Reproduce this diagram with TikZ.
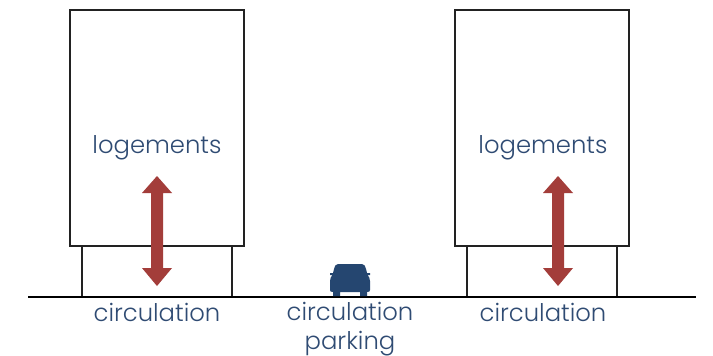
\documentclass[tikz,border=0pt]{standalone}
\usepackage{fontspec}
\setmainfont{Poppins Light}
\definecolor{ink}{HTML}{2F4B73}
\definecolor{carblue}{HTML}{254670}
\definecolor{arrowred}{HTML}{A33D3A}
\definecolor{linegrey}{HTML}{222222}
\tikzset{
  box/.style={draw=linegrey,line width=1.4pt,fill=white},
  ground/.style={draw=black,line width=1.7pt},
  lab/.style={text=ink,font=\fontsize{24.3}{29}\selectfont,align=center,inner sep=0pt},
  redarrow/.style={fill=arrowred,draw=none}
}
\newcommand{\updown}[1]{%
  \fill[redarrow,shift={(#1,0)}] (0,176)--(15,193)--(6,193)--(6,268)--(15,268)--(0,286)--(-15,268)--(-6,268)--(-6,193)--(-15,193)--cycle;}
\begin{document}
\begin{tikzpicture}[x=1pt,y=-1pt]
\useasboundingbox (0,0) rectangle (713,356);
\fill[white] (0,0) rectangle (713,356);
% buildings
\draw[box] (70,10) rectangle (244,246);
\draw[box] (455,10) rectangle (629,246);
\draw[box] (82,246) rectangle (232,297);
\draw[box] (467,246) rectangle (617,297);
\draw[ground] (28,297) -- (696,297);
% arrows
\updown{157}
\updown{558}
% car
\fill[carblue] (338,264) -- (362,264) .. controls (364,264) and (365,265.5) .. (366,269)
  -- (367,273) -- (370,273) -- (370,275) -- (367.5,275)
  .. controls (369,277) and (370,278) .. (370,281)
  -- (370,290) .. controls (370,291.5) and (369,292) .. (367,292)
  -- (367,296) -- (360,296) -- (360,292) -- (340,292) -- (340,296) -- (333,296) -- (333,292)
  .. controls (331,292) and (330,291.5) .. (330,290)
  -- (330,281) .. controls (330,278) and (331,277) .. (332.5,275)
  -- (330,275) -- (330,273) -- (333,273) -- (334,269)
  .. controls (335,265.5) and (336,264) .. (338,264) -- cycle;
% labels
\node[lab] (logA) at (157,148) {logements};
\node[lab] (logB) at (543,148) {logements};
\node[lab] (circA) at (157,312) {circulation};
\node[lab] (circB) at (543,312) {circulation};
\node[lab] (circC) at (350,329) {circulation\\parking};
\end{tikzpicture}
\end{document}
